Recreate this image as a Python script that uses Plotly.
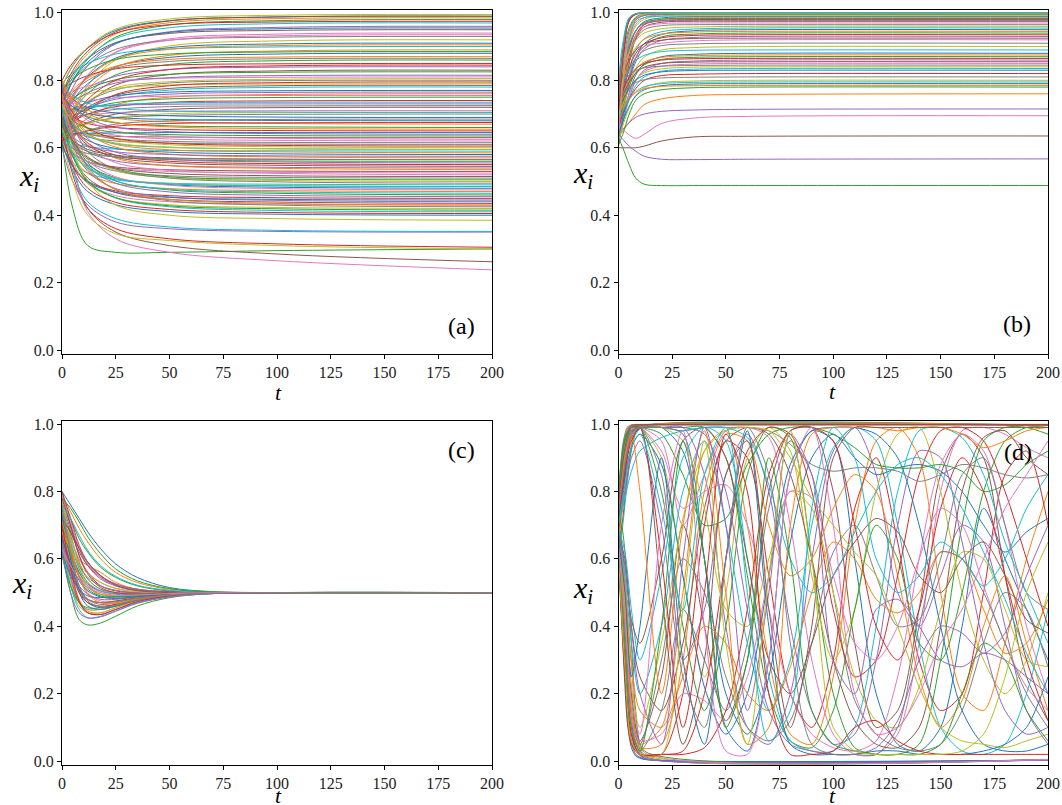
import plotly.graph_objects as go

TAB10 = ["#1f77b4", "#ff7f0e", "#2ca02c", "#d62728", "#9467bd",
         "#8c564b", "#e377c2", "#7f7f7f", "#bcbd22", "#17becf"]

X_TICKS = [0, 25, 50, 75, 100, 125, 150, 175, 200]
Y_TICKS = [0.0, 0.2, 0.4, 0.6, 0.8, 1.0]
PANEL_LABELS = ["(a)", "(b)", "(c)", "(d)"]

# ---------------- panel (a) ----------------
T_A = [0, 5, 12, 25, 50, 100, 200]
A_LINES = [
    [.78, .843, .896, .948, .977, .988, .99],
    [.75, .82, .879, .938, .971, .983, .985],
    [.72, .798, .863, .928, .964, .977, .98],
    [.80, .852, .896, .94, .965, .973, .975],
    [.70, .778, .843, .908, .944, .957, .96],
    [.76, .817, .865, .912, .939, .948, .95],
    [.66, .744, .814, .884, .923, .937, .94],
    [.74, .797, .845, .892, .919, .928, .93],
    [.62, .71, .785, .86, .902, .917, .92],
    [.79, .823, .85, .878, .893, .899, .90],
    [.68, .74, .79, .84, .868, .878, .88],
    [.73, .772, .807, .842, .862, .869, .87],
    [.64, .706, .761, .816, .847, .858, .86],
    [.77, .794, .814, .834, .845, .849, .85],
    [.70, .742, .777, .812, .832, .839, .84],
    [.61, .676, .731, .786, .817, .828, .83],
    [.75, .768, .783, .798, .806, .809, .81],
    [.66, .702, .737, .772, .792, .799, .80],
    [.72, .741, .759, .776, .786, .789, .79],
    [.63, .675, .713, .75, .771, .779, .78],
    [.69, .714, .734, .754, .765, .769, .77],
    [.60, .648, .688, .728, .75, .758, .76],
    [.67, .694, .714, .734, .745, .749, .75],
    [.65, .677, .70, .722, .735, .739, .74],
    [.71, .716, .721, .726, .729, .73, .73],
    [.62, .65, .675, .70, .714, .719, .72],
    [.68, .689, .697, .704, .708, .71, .71],
    [.64, .658, .673, .688, .696, .699, .70],
    [.78, .845, .898, .952, .982, .993, .995],
    [.74, .809, .867, .924, .956, .968, .97],
    [.69, .756, .811, .866, .897, .908, .91],
    [.63, .708, .773, .838, .874, .887, .89],
    [.71, .745, .773, .802, .818, .824, .825],
    [.61, .666, .712, .758, .784, .793, .795],
    [.66, .692, .718, .744, .759, .764, .765],
    [.76, .829, .887, .944, .976, .988, .99],
    [.67, .75, .816, .882, .919, .932, .935],
    [.72, .764, .80, .836, .856, .864, .865],
    [.65, .698, .738, .778, .796, .803, .805],
    [.70, .711, .719, .728, .733, .735, .735],
    [.78, .744, .719, .703, .695, .691, .69],
    [.80, .748, .712, .688, .677, .672, .67],
    [.76, .72, .692, .674, .665, .662, .66],
    [.72, .692, .672, .66, .654, .651, .65],
    [.79, .73, .688, .661, .648, .642, .64],
    [.66, .648, .64, .634, .632, .63, .63],
    [.74, .692, .658, .637, .626, .622, .62],
    [.68, .652, .632, .62, .614, .611, .61],
    [.77, .702, .654, .624, .609, .603, .60],
    [.63, .614, .603, .596, .592, .591, .59],
    [.71, .658, .622, .598, .587, .582, .58],
    [.80, .708, .644, .602, .581, .573, .57],
    [.65, .614, .589, .573, .565, .561, .56],
    [.75, .67, .614, .578, .56, .553, .55],
    [.69, .63, .588, .561, .547, .542, .54],
    [.62, .584, .559, .543, .535, .531, .53],
    [.78, .676, .603, .556, .533, .524, .52],
    [.66, .60, .558, .531, .517, .512, .51],
    [.73, .638, .574, .532, .511, .503, .50],
    [.60, .556, .525, .505, .495, .492, .49],
    [.70, .612, .55, .511, .491, .483, .48],
    [.64, .572, .524, .494, .479, .473, .47],
    [.76, .64, .556, .502, .475, .465, .46],
    [.61, .546, .501, .472, .458, .452, .45],
    [.72, .608, .53, .479, .454, .444, .44],
    [.67, .576, .51, .467, .447, .439, .435],
    [.63, .55, .494, .458, .44, .433, .43],
    [.79, .644, .542, .476, .443, .43, .425],
    [.65, .558, .494, .452, .431, .423, .42],
    [.70, .584, .503, .451, .425, .414, .41],
    [.62, .532, .47, .431, .411, .403, .40],
    [.76, .69, .641, .61, .594, .588, .585],
    [.62, .42, .31, .29, .29, .295, .30],
    [.68, .52, .42, .36, .33, .315, .305],
    [.60, .50, .43, .38, .36, .352, .35],
    [.72, .55, .42, .35, .31, .285, .262],
    [.69, .55, .41, .33, .29, .265, .238],
    [.70, .666, .642, .627, .619, .616, .615],
    [.64, .50, .40, .345, .325, .31, .30],
    [.66, .53, .44, .39, .365, .355, .352],
    [.64, .642, .643, .644, .645, .645, .645],
    [.78, .682, .613, .569, .547, .539, .535],
    [.68, .614, .567, .537, .514, .507, .505],
    [.62, .637, .65, .664, .672, .674, .675],
    [.74, .626, .546, .495, .469, .459, .455],
    [.66, .622, .595, .578, .57, .566, .565],
    [.80, .73, .681, .65, .634, .628, .625],
    [.61, .633, .651, .67, .68, .684, .685],
    [.74, .60, .50, .43, .40, .39, .385],
    [.72, .67, .635, .612, .601, .597, .595],
    [.73, .798, .854, .91, .942, .953, .955],
    [.69, .755, .808, .862, .892, .903, .905],
    [.77, .805, .833, .862, .878, .884, .885],
    [.62, .688, .744, .80, .832, .843, .845],
    [.70, .735, .763, .792, .808, .814, .815],
    [.64, .684, .72, .756, .776, .784, .785],
    [.72, .731, .739, .748, .753, .755, .755],
    [.67, .687, .70, .714, .722, .724, .725],
    [.63, .653, .671, .69, .701, .704, .705],
    [.79, .756, .732, .717, .709, .706, .705],
    [.75, .722, .702, .69, .684, .681, .68],
    [.80, .742, .701, .675, .662, .657, .655],
    [.71, .68, .659, .646, .639, .636, .635],
    [.77, .704, .658, .628, .613, .607, .605],
    [.67, .632, .605, .588, .58, .576, .575],
    [.74, .662, .607, .572, .555, .548, .545],
    [.63, .588, .559, .54, .53, .527, .525],
    [.79, .672, .589, .536, .51, .499, .495],
    [.66, .59, .541, .51, .494, .488, .485],
    [.72, .618, .547, .501, .477, .469, .465],
    [.61, .544, .498, .468, .453, .447, .445],
    [.76, .628, .536, .476, .447, .435, .43],
    [.68, .574, .50, .452, .428, .419, .415],
    [.64, .546, .48, .438, .417, .408, .405],
    [.78, .69, .627, .587, .566, .558, .555],
    [.69, .62, .571, .54, .524, .517, .515],
    [.75, .64, .563, .514, .489, .479, .475],
    [.62, .598, .583, .573, .568, .566, .565],
    [.73, .676, .638, .614, .602, .597, .595],
    [.65, .584, .538, .508, .493, .487, .485],
]

# ---------------- panel (b) ----------------
T_B = [0, 2, 5, 8, 12, 20, 35, 60, 200]
B_LINES = [
    [.75, .887, .982, .997, .999, .999, .999, .999, .999],
    [.70, .864, .979, .996, .999, .999, .999, .999, .999],
    [.78, .867, .956, .987, .996, .998, .998, .998, .998],
    [.66, .846, .976, .995, .998, .998, .998, .998, .998],
    [.73, .838, .946, .984, .994, .997, .997, .997, .997],
    [.62, .771, .922, .978, .993, .997, .997, .997, .997],
    [.79, .852, .924, .965, .986, .994, .996, .996, .996],
    [.68, .806, .932, .979, .992, .995, .995, .995, .995],
    [.76, .83, .913, .96, .981, .991, .993, .993, .993],
    [.64, .78, .92, .973, .986, .99, .99, .99, .99],
    [.71, .793, .891, .946, .974, .985, .988, .988, .988],
    [.60, .716, .85, .927, .966, .981, .985, .985, .985],
    [.74, .813, .898, .947, .971, .981, .983, .983, .983],
    [.67, .763, .872, .934, .965, .977, .98, .98, .98],
    [.77, .832, .905, .947, .968, .976, .978, .978, .978],
    [.63, .734, .854, .923, .958, .972, .975, .975, .975],
    [.72, .795, .883, .933, .958, .968, .97, .97, .97],
    [.65, .745, .855, .92, .95, .962, .965, .965, .965],
    [.79, .833, .884, .918, .94, .953, .958, .96, .96],
    [.69, .756, .836, .889, .923, .944, .952, .955, .955],
    [.61, .695, .797, .865, .909, .936, .947, .95, .95],
    [.75, .799, .857, .896, .922, .937, .943, .945, .945],
    [.66, .729, .811, .866, .901, .929, .937, .94, .94],
    [.71, .766, .834, .879, .908, .926, .933, .935, .935],
    [.63, .705, .795, .854, .893, .918, .927, .93, .93],
    [.78, .816, .86, .889, .908, .919, .924, .925, .925],
    [.68, .743, .818, .868, .90, .91, .917, .92, .92],
    [.73, .775, .829, .865, .888, .903, .908, .91, .91],
    [.64, .705, .783, .835, .869, .89, .897, .90, .90],
    [.76, .793, .832, .858, .874, .885, .889, .89, .89],
    [.62, .685, .763, .815, .849, .87, .877, .88, .88],
    [.70, .744, .796, .831, .854, .868, .873, .875, .875],
    [.67, .72, .782, .822, .846, .862, .868, .87, .87],
    [.74, .771, .809, .834, .85, .86, .864, .865, .865],
    [.61, .673, .748, .798, .83, .85, .857, .86, .86],
    [.72, .754, .794, .821, .839, .85, .854, .855, .855],
    [.65, .70, .76, .80, .826, .842, .848, .85, .85],
    [.78, .796, .816, .829, .837, .842, .844, .845, .845],
    [.69, .728, .773, .803, .822, .834, .839, .84, .84],
    [.63, .681, .743, .784, .81, .827, .833, .835, .835],
    [.71, .74, .776, .80, .815, .825, .829, .83, .83],
    [.63, .65, .675, .70, .728, .745, .755, .758, .76],
    [.63, .60, .55, .51, .492, .488, .488, .488, .488],
    [.66, .70, .745, .775, .80, .814, .818, .82, .82],
    [.64, .655, .675, .69, .70, .708, .712, .714, .715],
    [.60, .60, .60, .60, .605, .62, .632, .634, .635],
    [.67, .655, .638, .628, .64, .672, .688, .693, .695],
    [.74, .759, .779, .793, .802, .807, .809, .81, .81],
    [.62, .665, .719, .755, .778, .793, .798, .80, .80],
    [.68, .709, .743, .766, .781, .79, .794, .795, .795],
    [.64, .678, .723, .753, .772, .784, .789, .79, .79],
    [.70, .721, .747, .764, .775, .782, .784, .785, .785],
    [.61, .64, .70, .74, .76, .772, .778, .78, .78],
    [.69, .859, .978, .996, .999, .999, .999, .999, .999],
    [.64, .625, .605, .59, .575, .566, .565, .566, .567],
    [.77, .89, .984, .997, .999, .999, .999, .999, .999],
    [.64, .783, .927, .98, .995, .999, .999, .999, .999],
    [.74, .882, .981, .997, .999, .999, .999, .999, .999],
    [.67, .801, .933, .982, .996, .999, .999, .999, .999],
    [.80, .91, .986, .997, .999, .999, .999, .999, .999],
]

# ---------------- panel (c) ----------------
T_C = [0, 4, 8, 12, 18, 25, 35, 50, 70, 100, 200]
C_LINES = [
    [.80, .76, .72, .68, .63, .585, .545, .515, .503, .50, .50],
    [.79, .74, .69, .65, .60, .56, .53, .51, .502, .50, .50],
    [.78, .72, .66, .62, .575, .545, .52, .505, .50, .50, .50],
    [.80, .72, .64, .59, .55, .525, .51, .503, .50, .50, .50],
    [.77, .70, .63, .58, .54, .52, .505, .50, .50, .50, .50],
    [.76, .67, .59, .54, .51, .50, .497, .498, .50, .50, .50],
    [.75, .64, .55, .50, .475, .475, .485, .495, .499, .50, .50],
    [.74, .62, .52, .48, .465, .47, .483, .494, .499, .50, .50],
    [.79, .68, .58, .53, .50, .49, .49, .495, .499, .50, .50],
    [.73, .63, .56, .52, .495, .487, .49, .496, .499, .50, .50],
    [.72, .60, .50, .46, .45, .46, .478, .492, .498, .50, .50],
    [.71, .58, .48, .445, .44, .455, .475, .49, .498, .50, .50],
    [.63, .50, .42, .404, .41, .43, .46, .485, .497, .50, .50],
    [.69, .58, .51, .48, .47, .475, .485, .495, .499, .50, .50],
    [.68, .55, .47, .44, .435, .45, .47, .488, .497, .50, .50],
    [.70, .62, .56, .525, .505, .497, .495, .498, .50, .50, .50],
    [.67, .60, .55, .52, .505, .50, .499, .50, .50, .50, .50],
    [.66, .54, .47, .45, .45, .46, .477, .492, .498, .50, .50],
    [.65, .53, .46, .44, .44, .455, .475, .49, .498, .50, .50],
    [.64, .52, .45, .425, .43, .445, .47, .488, .497, .50, .50],
    [.62, .55, .51, .49, .485, .488, .493, .497, .50, .50, .50],
    [.60, .60, .595, .58, .56, .53, .51, .50, .50, .50, .50],
    [.61, .52, .47, .455, .455, .465, .48, .493, .499, .50, .50],
    [.78, .70, .61, .56, .52, .505, .50, .50, .50, .50, .50],
    [.76, .69, .63, .59, .55, .525, .51, .502, .50, .50, .50],
    [.74, .68, .62, .58, .545, .52, .507, .501, .50, .50, .50],
    [.72, .66, .60, .56, .53, .512, .503, .50, .50, .50, .50],
    [.70, .64, .58, .545, .52, .507, .50, .50, .50, .50, .50],
    [.77, .66, .57, .52, .49, .482, .487, .495, .499, .50, .50],
    [.75, .65, .57, .53, .505, .495, .494, .497, .50, .50, .50],
    [.73, .60, .51, .47, .455, .46, .477, .492, .498, .50, .50],
    [.71, .62, .55, .515, .495, .49, .492, .497, .50, .50, .50],
    [.69, .61, .545, .51, .49, .487, .49, .496, .499, .50, .50],
    [.67, .57, .50, .47, .46, .465, .48, .493, .499, .50, .50],
    [.65, .57, .52, .495, .48, .48, .487, .495, .499, .50, .50],
    [.80, .70, .61, .555, .515, .50, .495, .497, .50, .50, .50],
    [.79, .71, .635, .585, .545, .52, .505, .50, .50, .50, .50],
    [.64, .56, .505, .48, .47, .473, .483, .494, .499, .50, .50],
    [.68, .63, .585, .555, .53, .513, .503, .50, .50, .50, .50],
    [.76, .72, .67, .625, .58, .548, .522, .507, .501, .50, .50],
    [.66, .59, .535, .505, .487, .483, .488, .495, .499, .50, .50],
    [.74, .64, .545, .495, .47, .468, .48, .493, .499, .50, .50],
    [.78, .75, .71, .665, .615, .57, .535, .512, .502, .50, .50],
    [.70, .57, .475, .44, .435, .45, .473, .49, .498, .50, .50],
    [.62, .50, .44, .425, .428, .445, .468, .487, .497, .50, .50],
    [.72, .68, .63, .59, .55, .522, .506, .50, .50, .50, .50],
    [.63, .58, .54, .515, .50, .492, .493, .497, .50, .50, .50],
    [.75, .62, .52, .475, .458, .462, .478, .492, .498, .50, .50],
]

# ---------------- panel (d) ----------------
T_D = [0, 3, 6, 10, 20, 30, 40, 50, 60, 70, 80, 90, 100,
       110, 120, 130, 140, 150, 160, 170, 180, 190, 200]
D_LINES = [
    [.72, .90, .98, .99, .99, .97, .60, .10, .03, .30, .85, .98, .95, .60, .20, .05, .03, .10, .40, .75, .60, .45, .30],
    [.65, .45, .15, .05, .10, .50, .92, .98, .70, .30, .08, .05, .25, .70, .95, .99, .90, .50, .20, .15, .35, .60, .80],
    [.78, .95, .99, .99, .80, .40, .15, .40, .85, .99, .96, .60, .20, .04, .02, .02, .05, .30, .70, .95, .99, .99, .97],
    [.60, .30, .08, .02, .02, .20, .70, .95, .90, .55, .20, .10, .30, .75, .90, .65, .30, .15, .20, .50, .85, .92, .70],
    [.70, .85, .96, .99, .99, .99, .85, .40, .10, .05, .20, .60, .92, .99, .85, .50, .40, .55, .70, .65, .40, .15, .05],
    [.68, .50, .20, .06, .25, .70, .40, .12, .30, .80, .98, .99, .80, .35, .10, .15, .45, .85, .97, .90, .55, .25, .12],
    [.75, .92, .99, .99, .95, .70, .85, .98, .99, .96, .70, .30, .08, .02, .02, .08, .35, .80, .98, .99, .97, .93, .90],
    [.62, .40, .10, .03, .15, .45, .30, .15, .35, .75, .95, .85, .50, .18, .08, .04, .03, .05, .15, .35, .50, .45, .28],
    [.77, .93, .99, .99, .90, .55, .25, .50, .90, .99, .92, .55, .30, .45, .80, .97, .99, .80, .50, .30, .20, .30, .50],
    [.66, .55, .35, .20, .40, .80, .95, .70, .35, .15, .30, .70, .93, .99, .95, .70, .35, .10, .03, .02, .05, .20, .45],
    [.72, .88, .97, .99, .99, .92, .60, .20, .08, .25, .65, .90, .97, .90, .85, .87, .88, .86, .80, .70, .62, .68, .72],
    [.64, .35, .10, .04, .05, .30, .80, .97, .95, .70, .55, .60, .75, .85, .80, .55, .25, .10, .18, .40, .55, .35, .15],
    [.79, .96, .99, .99, .99, .99, .99, .90, .55, .20, .06, .04, .15, .45, .70, .60, .35, .30, .50, .80, .95, .99, .99],
    [.61, .28, .06, .02, .02, .03, .20, .60, .92, .99, .97, .80, .45, .25, .30, .55, .85, .98, .99, .95, .80, .60, .40],
    [.70, .80, .90, .95, .70, .30, .45, .85, .97, .80, .40, .15, .05, .08, .30, .70, .92, .90, .65, .35, .15, .08, .10],
    [.67, .60, .40, .25, .15, .35, .75, .95, .99, .97, .85, .60, .30, .12, .05, .04, .10, .40, .80, .96, .98, .90, .85],
    [.76, .94, .99, .99, .92, .75, .80, .82, .70, .45, .20, .08, .04, .03, .06, .25, .60, .88, .97, .92, .70, .40, .20],
    [.63, .38, .12, .05, .30, .60, .50, .25, .10, .06, .12, .35, .62, .70, .55, .40, .42, .60, .85, .90, .70, .50, .45],
    [.74, .90, .97, .99, .99, .95, .75, .45, .40, .60, .80, .75, .50, .25, .12, .10, .22, .45, .62, .60, .45, .30, .28],
    [.69, .62, .45, .30, .55, .90, .99, .95, .60, .25, .06, .03, .03, .10, .40, .80, .98, .99, .96, .85, .65, .50, .35],
    [.71, .84, .93, .97, .88, .55, .22, .08, .20, .55, .88, .98, .99, .99, .97, .90, .70, .40, .15, .05, .03, .03, .05],
    [.65, .52, .30, .15, .10, .25, .40, .35, .20, .15, .28, .50, .65, .60, .48, .44, .50, .62, .60, .45, .32, .35, .48],
    [.78, .95, .99, .99, .97, .85, .70, .72, .88, .97, .99, .99, .97, .93, .88, .87, .87, .88, .86, .80, .82, .88, .92],
    [.60, .25, .05, .02, .02, .02, .04, .15, .45, .85, .98, .99, .95, .70, .40, .30, .45, .75, .90, .80, .55, .30, .12],
    [.73, .89, .97, .99, .99, .99, .97, .80, .45, .15, .05, .03, .02, .02, .04, .12, .30, .40, .38, .32, .38, .55, .70],
    [.68, .58, .42, .35, .60, .95, .99, .90, .60, .30, .20, .35, .55, .65, .72, .68, .55, .50, .60, .65, .55, .42, .38],
    [.62, .35, .12, .06, .08, .20, .18, .12, .25, .55, .80, .78, .55, .35, .30, .40, .60, .75, .70, .52, .35, .22, .15],
    [.77, .92, .98, .99, .99, .98, .99, .99, .99, .98, .94, .88, .86, .87, .87, .86, .83, .85, .88, .87, .85, .84, .85],
    [.66, .48, .22, .10, .35, .72, .92, .98, .99, .98, .90, .78, .70, .62, .55, .40, .22, .10, .06, .05, .04, .06, .08],
    [.70, .78, .86, .92, .96, .98, .99, .99, .96, .82, .60, .50, .55, .68, .80, .88, .90, .85, .75, .62, .48, .32, .20],
    [.66, .50, .25, .40, .90, .30, .05, .60, .98, .40, .05, .02, .02, .02, .03, .03, .02, .02, .02, .03, .05, .10, .25],
    [.74, .90, .97, .80, .20, .70, .98, .50, .05, .10, .70, .97, .99, .99, .99, .98, .99, .99, .97, .93, .95, .98, .99],
    [.62, .35, .10, .03, .40, .95, .60, .10, .30, .90, .60, .15, .05, .03, .02, .02, .02, .05, .20, .35, .30, .15, .06],
    [.71, .86, .95, .99, .60, .10, .50, .97, .80, .20, .02, .02, .03, .10, .12, .06, .03, .02, .02, .02, .02, .02, .02],
    [.68, .58, .40, .20, .05, .60, .99, .70, .15, .50, .97, .85, .30, .20, .45, .48, .40, .30, .28, .32, .30, .25, .20],
    [.76, .93, .99, .99, .50, .05, .30, .85, .95, .45, .10, .40, .90, .99, .99, .99, .99, .99, .99, .99, .99, .99, .99],
    [.64, .42, .18, .08, .70, .98, .40, .03, .02, .30, .85, .99, .70, .20, .08, .10, .20, .35, .45, .60, .75, .85, .95],
    [.73, .88, .96, .99, .85, .25, .10, .60, .99, .85, .35, .05, .02, .02, .02, .10, .40, .62, .60, .50, .35, .20, .10],
    [.60, .28, .06, .02, .02, .45, .95, .35, .05, .55, .98, .60, .10, .03, .02, .02, .02, .02, .03, .08, .25, .50, .65],
    [.70, .82, .93, .97, .75, .45, .85, .99, .50, .06, .15, .75, .99, .90, .60, .50, .55, .65, .60, .52, .60, .75, .85],
]
T_DS = [0, 2, 4, 6, 8, 12, 200]
DS_LINES = [
    [.72, .88, .97, .995, .998, .998, .998],
    [.64, .45, .22, .08, .03, .008, .004],
    [.65, .78, .90, .97, .99, .997, .997],
    [.70, .55, .30, .12, .05, .01, .004],
    [.78, .92, .985, .997, .998, .998, .998],
    [.60, .38, .15, .05, .02, .006, .003],
    [.60, .70, .82, .92, .97, .995, .996],
    [.67, .50, .28, .12, .04, .01, .004],
    [.75, .90, .98, .996, .998, .999, .999],
    [.72, .62, .42, .20, .08, .015, .004],
    [.68, .80, .91, .97, .99, .997, .997],
    [.62, .42, .18, .06, .02, .006, .003],
    [.62, .72, .84, .93, .975, .995, .996],
    [.66, .52, .33, .16, .06, .012, .004],
    [.80, .94, .99, .998, .999, .999, .999],
    [.69, .58, .40, .22, .10, .02, .005],
    [.70, .82, .92, .975, .992, .998, .998],
    [.61, .35, .12, .04, .015, .005, .003],
    [.66, .75, .86, .94, .98, .996, .997],
    [.74, .68, .55, .35, .15, .03, .005],
    [.73, .86, .95, .985, .996, .998, .998],
    [.63, .48, .26, .10, .035, .008, .003],
    [.76, .90, .975, .995, .998, .998, .998],
    [.68, .60, .45, .28, .13, .025, .005],
]

W, H = 1062, 805
XDOM = [[62 / W, 492 / W], [618.5 / W, 1048 / W]]
YDOM = [[1 - 353.5 / H, 1 - 9.5 / H], [1 - 764.5 / H, 1 - 420.7 / H]]

fig = go.Figure()


def add_lines(t, lines, xa, ya, offset=0, smooth=1.0):
    for i, ys in enumerate(lines):
        fig.add_trace(go.Scatter(
            x=t, y=ys, mode="lines",
            line=dict(color=TAB10[(i + offset) % 10], width=1,
                      shape="spline", smoothing=smooth),
            xaxis=xa, yaxis=ya, hoverinfo="skip", showlegend=False))


add_lines(T_A, A_LINES, "x", "y")
add_lines(T_B, B_LINES, "x2", "y2")
add_lines(T_C, C_LINES, "x3", "y3")
add_lines(T_DS, DS_LINES, "x4", "y4", offset=3, smooth=0.6)
add_lines(T_D, D_LINES, "x4", "y4", smooth=0.8)

FONT = "Liberation Serif, DejaVu Serif, serif"
axis_common = dict(
    showline=True, mirror=True, linecolor="black", linewidth=1,
    ticks="outside", ticklen=4, tickwidth=1, tickcolor="black",
    showgrid=False, zeroline=False, automargin=False,
    tickfont=dict(family=FONT, size=16, color="#222"),
)

layout = dict(
    width=W, height=H, autosize=False,
    margin=dict(l=0, r=0, t=0, b=0, pad=0, autoexpand=False),
    paper_bgcolor="white", plot_bgcolor="white",
    showlegend=False,
)
names = [("xaxis", "yaxis"), ("xaxis2", "yaxis2"), ("xaxis3", "yaxis3"), ("xaxis4", "yaxis4")]
for k, (xn, yn) in enumerate(names):
    col, row = k % 2, k // 2
    suf = "" if k == 0 else str(k + 1)
    layout[xn] = dict(axis_common, domain=XDOM[col], range=[0, 200],
                      tickvals=X_TICKS, anchor="y" + suf)
    layout[yn] = dict(axis_common, domain=YDOM[row], range=[-0.01, 1.01],
                      tickvals=Y_TICKS, tickformat=".1f", anchor="x" + suf)
fig.update_layout(**layout)

ylab_pos = [(29, 178), (583, 175), (22, 585), (583, 590)]
xlab_pos = [(278, 392), (832, 391), (278, 795), (832, 795)]
plabel_pos = [(461, 326), (1017, 324), (461, 450), (1018, 452)]
ann = []
for k in range(4):
    px, py = ylab_pos[k]
    ann.append(dict(x=px / W, y=1 - py / H, xref="paper", yref="paper",
                    text="<i>x</i><sub><i>i</i></sub>", showarrow=False,
                    font=dict(family=FONT, size=30, color="black"),
                    xanchor="center", yanchor="middle"))
    px, py = xlab_pos[k]
    ann.append(dict(x=px / W, y=1 - py / H, xref="paper", yref="paper",
                    text="<i>t</i>", showarrow=False,
                    font=dict(family=FONT, size=22, color="black"),
                    xanchor="center", yanchor="middle"))
    px, py = plabel_pos[k]
    ann.append(dict(x=px / W, y=1 - py / H, xref="paper", yref="paper",
                    text=PANEL_LABELS[k], showarrow=False,
                    font=dict(family=FONT, size=24, color="black"),
                    xanchor="center", yanchor="middle"))
fig.update_layout(annotations=ann)

fig.write_html(
    "out.html",
    config={"displayModeBar": False},
    post_script="document.body.style.margin='0';document.body.style.overflow='hidden';",
)
